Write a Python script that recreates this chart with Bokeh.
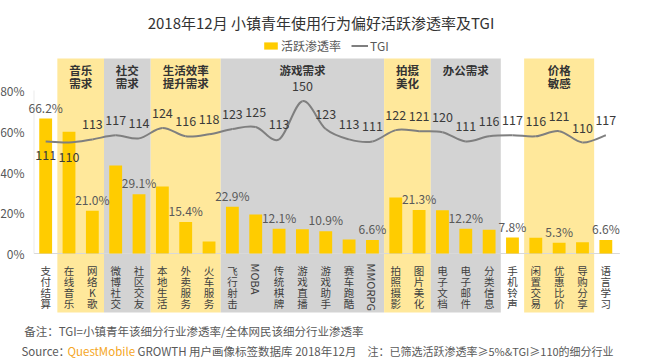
import math
from bokeh.plotting import figure
from bokeh.models import (Range1d, Label, Legend, LegendItem, ColumnDataSource)
from bokeh.core.properties import value
from bokeh.embed import file_html
from bokeh.resources import INLINE

# ---------------- data ----------------
categories = ["支付结算", "在线音乐", "网络K歌", "微博社交", "社区交友", "本地生活", "外卖服务",
              "火车服务", "飞行射击", "MOBA", "传统棋牌", "游戏直播", "游戏助手", "赛车跑酷",
              "MMORPG", "拍照摄影", "图片美化", "电子文档", "电子邮件", "分类信息", "手机铃声",
              "闲置交易", "优惠比价", "导购分享", "语言学习"]
penetration = [66.2, 59.8, 21.0, 43.2, 29.1, 32.9, 15.4, 5.9, 22.9, 19.1, 12.1, 11.9, 10.9,
               6.9, 6.6, 27.5, 21.3, 21.2, 12.2, 11.6, 7.8, 7.7, 5.3, 5.5, 6.6]
tgi = [111, 110, 113, 117, 114, 124, 116, 118, 123, 125, 113, 150, 123, 113, 111, 122, 121,
       120, 111, 116, 117, 116, 121, 110, 117]
pct_label_shown = [True, False, True, False, True, False, True, False, True, False, True, False,
                   True, False, True, False, True, False, True, False, True, False, True, False, True]
tgi_label_below = [True, True] + [False] * 23

group_names = ["音乐\n需求", "社交\n需求", "生活效率\n提升需求", "游戏需求", "拍摄\n美化", "办公需求", "价格\n敏感"]
group_start = [1, 3, 5, 8, 15, 17, 21]
group_end = [2, 4, 7, 14, 16, 19, 23]
group_kind = ["y", "g", "y", "g", "y", "g", "y"]

y_ticks = [0, 0.2, 0.4, 0.6, 0.8]
y_tick_labels = ["0%", "20%", "40%", "60%", "80%"]

title_text = "2018年12月 小镇青年使用行为偏好活跃渗透率及TGI"
note1 = "备注：TGI=小镇青年该细分行业渗透率/全体网民该细分行业渗透率"
source_a = "Source："
source_b = "QuestMobile"
source_c = "GROWTH 用户画像标签数据库 2018年12月"
note2 = "注：已筛选活跃渗透率≥5%&TGI≥110的细分行业"

# ---------------- style / layout ----------------
FONT_S = "Noto Sans CJK SC"
FONT = value(FONT_S)
BAR_C = "#FFCC00"
BAND_Y = "#FFE89B"
BAND_G = "#D3D3D3"
LINE_C = "#7F7F7F"
W, H = 640, 360
PX = 203.75          # px per 1.0 on the left scale
Y0 = 253             # canvas y of 0 %
TPX, T0V, T0Y = 1.0325, 110, 142   # TGI scale: px per unit, reference value, its canvas y
UNIT, XL = 23.34, 33.5             # px per category, canvas x of first category edge
BAND_TOP, BAND_BOTTOM = (Y0 - 58) / PX, (Y0 - 312) / PX


def sy(page_y):
    return H - page_y


# ---------------- figure ----------------
n = len(categories)
p = figure(width=W, height=H, x_range=Range1d(-XL / UNIT, (W - XL) / UNIT),
           y_range=Range1d(-(H - Y0) / PX, Y0 / PX), title=None,
           output_backend="svg", toolbar_location=None,
           min_border_left=0, min_border_right=0, min_border_top=0, min_border_bottom=0)
p.extra_y_ranges = {"tgi": Range1d(T0V - (H - T0Y) / TPX, T0V + T0Y / TPX)}
p.xaxis.visible = False
p.yaxis.visible = False
p.grid.visible = False
p.outline_line_color = None
p.background_fill_color = "white"
p.border_fill_color = "white"

# bands
band_src = ColumnDataSource(dict(
    left=list(group_start),
    right=[e + 1 for e in group_end],
    color=[BAND_Y if k == "y" else BAND_G for k in group_kind],
))
p.quad(left="left", right="right", bottom=BAND_BOTTOM, top=BAND_TOP,
       fill_color="color", line_color=None, source=band_src)

hx, hy, ht = [], [], []
for s, e, name in zip(group_start, group_end, group_names):
    for j, line in enumerate(name.split("\n")):
        hx.append((s + e + 1) / 2); hy.append(BAND_TOP - (3.5 + j * 12.7) / PX); ht.append(line)
p.text(x=hx, y=hy, text=ht, text_align="center", text_baseline="top",
       text_font=FONT, text_font_size="11.5px", text_font_style="bold", text_color="#333333")

# axis lines (category axis at 0 %, faint value axis on the left)
p.segment(x0=0, y0=0, x1=n + 0.1, y1=0, line_color="#D9D9D9", line_width=1)
p.segment(x0=0, y0=0, x1=0, y1=y_ticks[-1], line_color="#EBEBEB", line_width=1)

# y tick labels
p.text(x=0, y=y_ticks, text=y_tick_labels, x_offset=-9.5, text_align="right",
       text_baseline="middle", text_font=FONT, text_font_size="12px", text_color="#595959")

# bars
xs = [i + 0.5 for i in range(n)]
bar_src = ColumnDataSource(dict(x=xs, top=[v / 100 for v in penetration]))
bars = p.vbar(x="x", top="top", width=0.55, fill_color=BAR_C, line_color=None, source=bar_src)

pct_src = ColumnDataSource(dict(
    x=[x for x, s in zip(xs, pct_label_shown) if s],
    y=[v / 100 for v, s in zip(penetration, pct_label_shown) if s],
    t=[f"{v:.1f}%" for v, s in zip(penetration, pct_label_shown) if s],
))
p.text(x="x", y="y", text="t", source=pct_src, y_offset=-3, text_align="center",
       text_baseline="bottom", text_font=FONT, text_font_size="12px", text_color="#595959")

# TGI smoothed line (Catmull-Rom -> cubic Bezier)
pts = list(zip(xs, tgi))
bx0, by0, bx1, by1, cx0, cy0, cx1, cy1 = [], [], [], [], [], [], [], []
for i in range(n - 1):
    xa, ya_ = pts[i]
    xb, yb = pts[i + 1]
    xm, ym = pts[i - 1] if i > 0 else pts[i]
    xp, yp = pts[i + 2] if i + 2 < n else pts[i + 1]
    bx0.append(xa); by0.append(ya_); bx1.append(xb); by1.append(yb)
    cx0.append(xa + (xb - xm) / 6); cy0.append(ya_ + (yb - ym) / 6)
    cx1.append(xb - (xp - xa) / 6); cy1.append(yb - (yp - ya_) / 6)
curve = p.bezier(x0=bx0, y0=by0, x1=bx1, y1=by1, cx0=cx0, cy0=cy0, cx1=cx1, cy1=cy1,
                 line_color=LINE_C, line_width=2, y_range_name="tgi")

tgi_src = ColumnDataSource(dict(x=xs, y=tgi, t=[str(v) for v in tgi],
                                off=[14 if b else -15 for b in tgi_label_below]))
p.text(x="x", y="y", text="t", source=tgi_src, y_offset="off", y_range_name="tgi",
       text_align="center", text_baseline="middle", text_font=FONT, text_font_size="12.5px",
       text_color="#3A3A3A")

# category labels: CJK stacked one character per row, Latin rotated
cx_, cy_, ct = [], [], []
for x, cat in zip(xs, categories):
    if not cat.isascii():
        for j, ch in enumerate(cat):
            cx_.append(x); cy_.append(-(9 + j * 11.3) / PX); ct.append(ch)
p.text(x=cx_, y=cy_, text=ct, text_align="center", text_baseline="top",
       text_font=FONT, text_font_size="10.5px", text_color="#404040")
lat_x = [x for x, c in zip(xs, categories) if c.isascii()]
lat_t = [c for c in categories if c.isascii()]
p.text(x=lat_x, y=0, text=lat_t, y_offset=10, angle=-math.pi / 2,
       text_align="left", text_baseline="middle", text_font=FONT, text_font_size="11px",
       text_color="#404040")

# legend
legend = Legend(items=[LegendItem(label="活跃渗透率", renderers=[bars]),
                       LegendItem(label="TGI", renderers=[curve])],
                orientation="horizontal", location=(262, sy(54)),
                glyph_width=17, glyph_height=9, label_height=14, label_standoff=2,
                spacing=10, padding=0, margin=0, border_line_color=None,
                background_fill_alpha=0, label_text_font=FONT_S, label_text_font_size="12px",
                label_text_color="#595959")
p.add_layout(legend, "center")

# title and notes (screen units, frame == canvas)
def lab(x, y, text, size, color, align="left"):
    p.add_layout(Label(x=x, y=y, x_units="screen", y_units="screen", text=text,
                       text_font=FONT_S, text_font_size=size, text_color=color,
                       text_align=align, text_baseline="middle"))

lab(320.5, sy(22), title_text, "15px", "#333333", "center")
lab(23.7, sy(330.5), note1, "11.5px", "#595959")
lab(21, sy(350), source_a, "11.5px", "#595959")
lab(67, sy(350), source_b, "11.5px", "#F5A623")
lab(137, sy(350), source_c, "11.5px", "#595959")
lab(367, sy(350), note2, "11px", "#595959")

open("out.html", "w").write(file_html(p, INLINE))
